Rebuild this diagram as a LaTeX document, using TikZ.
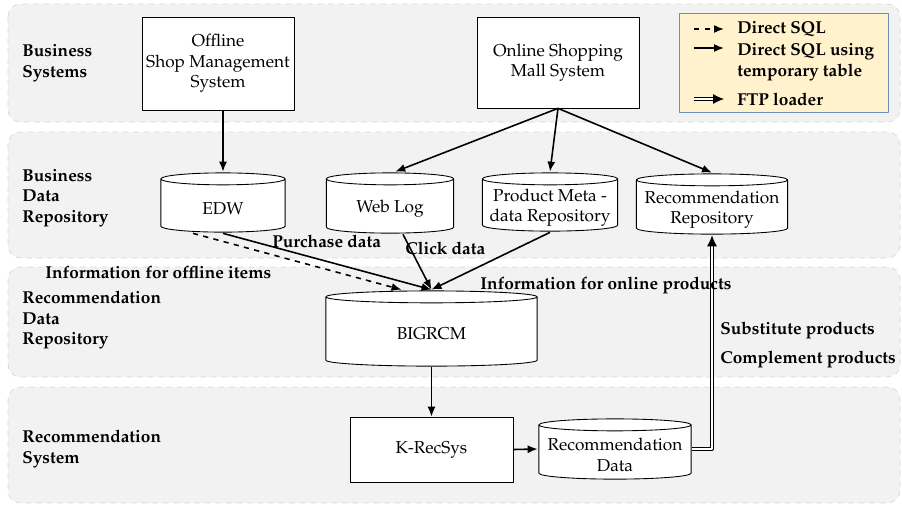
\documentclass[tikz,border=0pt]{standalone}
\usepackage[T1]{fontenc}
\usepackage{mathpazo}
\usetikzlibrary{calc, arrows.meta}

\definecolor{bandgray}{HTML}{F2F2F2}
\definecolor{bandline}{HTML}{D6D6D6}
\definecolor{legendfill}{HTML}{FFF2CC}
\definecolor{legendline}{HTML}{6C8EBF}

\tikzset{
	band/.style={fill=bandgray, draw=bandline, dashed, rounded corners=0.25cm},
	sysbox/.style={draw, fill=white, align=center, inner sep=2pt},
	dbcyl/.style={rectangle, inner sep=0pt,
		path picture={
			\draw[fill=white, line width=0.5pt]
				let \p1=(path picture bounding box.north west), \p2=(path picture bounding box.south east),
					\n1={(\x2-\x1)/2-0.5pt}, \n2={3.4pt} in
				({\x1+0.5pt},{\y1-0.5pt-\n2}) -- ({\x1+0.5pt},{\y2+0.5pt+\n2})
				arc[start angle=180, end angle=360, x radius=\n1, y radius=\n2]
				-- ({\x2-0.5pt},{\y1-0.5pt-\n2})
				arc[start angle=0, end angle=180, x radius=\n1, y radius=\n2] -- cycle
				({\x1+0.5pt},{\y1-0.5pt-\n2}) arc[start angle=180, end angle=360, x radius=\n1, y radius=\n2];
		}},
	dbtext/.style={align=center, inner sep=0pt},
	lbl/.style={font=\fontsize{9.8}{11.6}\selectfont\bfseries, anchor=west, inner sep=0pt, align=left},
	flow/.style={-{Latex[length=2mm, width=1.6mm]}, line width=0.9pt},
	ftp/.style={double, double distance=1.3pt, line width=0.5pt, -{Latex[length=2.2mm, width=2mm]}},
}

\begin{document}
\begin{tikzpicture}[x=0.02cm, y=-0.02cm, font=\fontsize{9.8}{11.6}\selectfont, line join=round]
	\useasboundingbox (0,0) rectangle (902,505);
	
	% layers
	\path[band] (8,4) rectangle (900,122);
	\path[band] (8,132) rectangle (900,258);
	\path[band] (8,267) rectangle (900,377);
	\path[band] (8,387) rectangle (900,503);
	
	\node[lbl] (bsys) at (22,63) {Business\\Systems};
	\node[lbl] (brep) at (22,198) {Business\\Data\\Repository};
	\node[lbl] (rrep) at (22,320) {Recommendation\\Data\\Repository};
	\node[lbl] (rsys) at (22,449) {Recommendation\\System};
	
	% systems and repositories
	\node[sysbox, minimum width=3.04cm, minimum height=1.86cm] (offline) at (218,63.5) {Offline\\Shop Management\\System};
	\node[sysbox, minimum width=3.24cm, minimum height=1.82cm] (online) at (558,62.5) {Online Shopping\\Mall System};
	\node[sysbox, minimum width=3.26cm, minimum height=1.3cm] (krec) at (431.5,449.5) {K-RecSys};
	\node[dbcyl, minimum width=2.52cm, minimum height=1.22cm] (edw) at (223,202.5) {};
	\node[dbcyl, minimum width=2.58cm, minimum height=1.24cm] (weblog) at (390,203) {};
	\node[dbcyl, minimum width=2.74cm, minimum height=1.2cm] (meta) at (550,202) {};
	\node[dbcyl, minimum width=3.06cm, minimum height=1.24cm] (recrepo) at (712,204) {};
	\node[dbcyl, minimum width=4.26cm, minimum height=1.54cm] (bigrcm) at (431.5,328.5) {};
	\node[dbcyl, minimum width=3.08cm, minimum height=1.24cm] (recdata) at (615,449) {};
	
	\foreach \db/\txt in {edw/EDW, weblog/Web Log, meta/{Product Meta -\\data Repository},
		recrepo/{Recommendation\\Repository}, bigrcm/BIGRCM, recdata/{Recommendation\\Data}}{
		\node[dbtext] (\db-txt) at ([yshift=-3.2pt]\db.center) {\txt};
	}
	
	% data flows
	\draw[flow] (offline.south -| edw.north) -- (edw.north);
	\draw[flow] (online.south) -- ([xshift=3pt]weblog.north);
	\draw[flow] (online.south) -- (meta.north);
	\draw[flow] (online.south) -- (recrepo.north);
	\draw[flow, dashed] ([xshift=-0.6cm]edw.south) -- ([xshift=-0.6cm]bigrcm.north);
	\draw[flow] (edw.south) -- (bigrcm.north);
	\draw[flow] ([xshift=0.26cm]weblog.south) -- (bigrcm.north);
	\draw[flow] (meta.south) -- (bigrcm.north);
	\draw[flow] (bigrcm.south) -- (krec.north);
	\draw[flow] (krec.east) -- (recdata.west);
	\draw[ftp] (recdata.east) -| (recrepo.south);
	
	\node[lbl] (purchase) at (272,241) {Purchase data};
	\node[lbl] (click) at (405,248) {Click data};
	\node[lbl] (offinfo) at (45,272) {Information for offline items};
	\node[lbl] (oninfo) at (480,285) {Information for online products};
	\node[lbl] (subst) at (720,330) {Substitute products};
	\node[lbl] (compl) at (720,359) {Complement products};
	
	% legend
	\node[draw=legendline, fill=legendfill, minimum width=4.18cm, minimum height=1.98cm, anchor=north west] (legend) at (679,13) {};
	\path
		(694,29) coordinate (l1a) (724,29) coordinate (l1b)
		(694,48) coordinate (l2a) (724,48) coordinate (l2b)
		(694,99) coordinate (l3a) (724,99) coordinate (l3b)
	;
	\draw[flow, dashed] (l1a) -- (l1b);
	\draw[flow] (l2a) -- (l2b);
	\draw[ftp] (l3a) -- (l3b);
	\node[lbl] (lg1) at (737,29) {Direct SQL};
	\node[lbl] (lg2) at (737,62) {Direct SQL using\\temporary table};
	\node[lbl] (lg3) at (737,99) {FTP loader};
\end{tikzpicture}
\end{document}
